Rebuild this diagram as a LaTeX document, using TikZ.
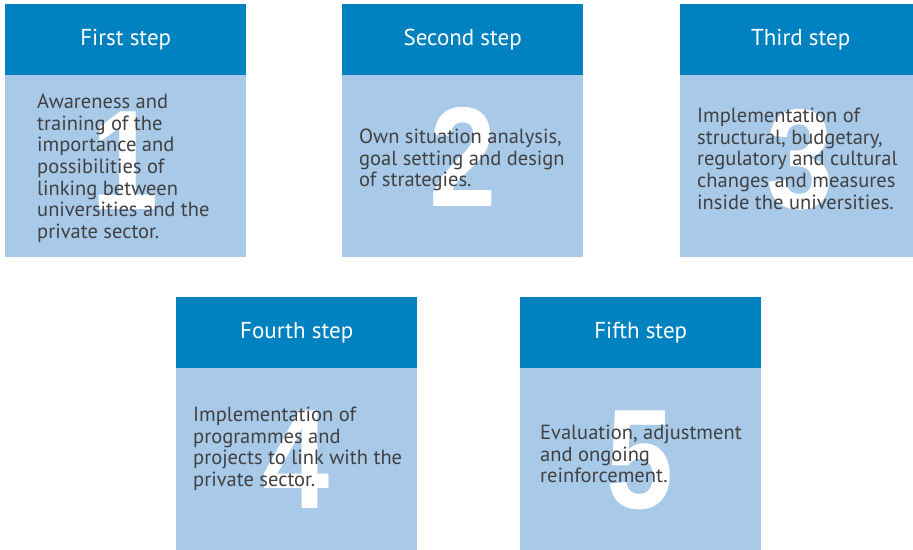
\documentclass[tikz,border=0pt]{standalone}
\usepackage{fontspec}
\setmainfont{PT Sans}
\newfontfamily\digitfont{Liberation Sans}
\definecolor{hdrblue}{HTML}{0082C1}
\definecolor{bodyblue}{HTML}{A8CAE8}
\definecolor{textgray}{HTML}{414042}
\begin{document}
\begin{tikzpicture}[x=1pt,y=-1pt,
  headbox/.style={fill=hdrblue, draw=none, anchor=north west, inner sep=0,
    minimum width=241pt, minimum height=71pt, text=white,
    font=\fontsize{23}{27}\selectfont},
  bodybox/.style={fill=bodyblue, draw=none, anchor=north west, inner sep=0,
    minimum width=241pt, minimum height=182pt},
  bignum/.style={text=white, anchor=base, inner sep=0, xscale=0.85,
    font=\digitfont\bfseries\fontsize{142}{142}\selectfont},
  steptext/.style={text=textgray, anchor=north west, inner sep=0, align=left,
    font=\fontsize{20.5}{21.6}\selectfont}]
\useasboundingbox (0,0) rectangle (913,549);
\fill[white] (0,0) rectangle (913,549);

% step 1
\node[headbox] (h1) at (5,4) {First step};
\node[bodybox] (b1) at (5,75) {};
\node[bignum] (n1) at (125.5,209) {1};
\node[steptext] (t1) at (37,94) {Awareness and\\training of the\\importance and\\possibilities of\\linking between\\universities and the\\private sector.};

% step 2
\node[headbox] (h2) at (342,4) {Second step};
\node[bodybox] (b2) at (342,75) {};
\node[bignum] (n2) at (463,206) {2};
\node[steptext] (t2) at (359,129) {Own situation analysis,\\goal setting and design\\of strategies.};

% step 3
\node[headbox] (h3) at (680,4) {Third step};
\node[bodybox] (b3) at (680,75) {};
\node[bignum] (n3) at (800,208) {3};
\node[steptext] (t3) at (697,108) {Implementation of\\structural, budgetary,\\regulatory and cultural\\changes and measures\\inside the universities.};

% step 4
\node[headbox] (h4) at (176,297) {Fourth step};
\node[bodybox] (b4) at (176,368) {};
\node[bignum] (n4) at (296.5,508) {4};
\node[steptext] (t4) at (193,407) {Implementation of\\programmes and\\projects to link with the\\private sector.};

% step 5
\node[headbox] (h5) at (520,297) {Fifth step};
\node[bodybox] (b5) at (520,368) {};
\node[bignum] (n5) at (640.5,508) {5};
\node[steptext] (t5) at (540,425) {Evaluation, adjustment\\and ongoing\\reinforcement.};
\end{tikzpicture}
\end{document}
